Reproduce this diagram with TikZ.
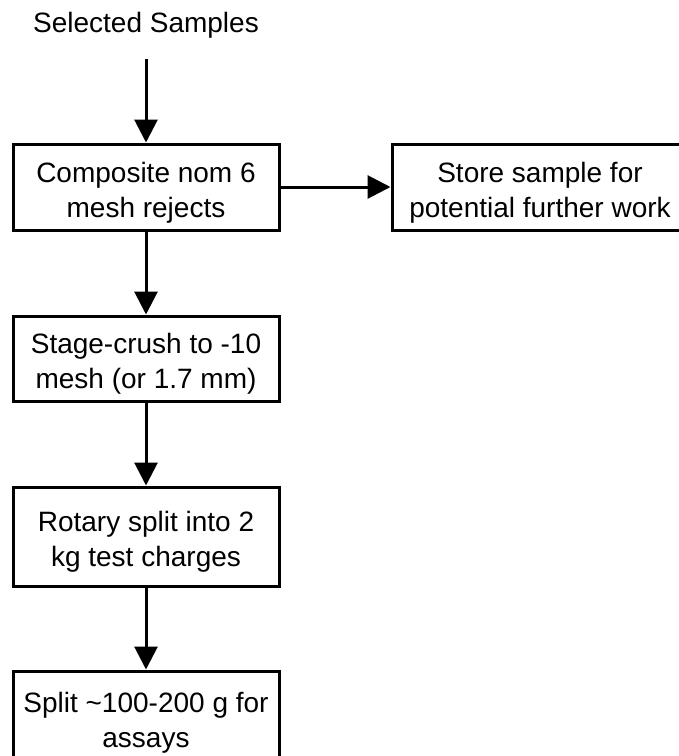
\documentclass[tikz,border=0pt]{standalone}
\usepackage{fontspec}
\setmainfont{Liberation Sans}
\usetikzlibrary{arrows.meta}

\newcommand{\lowtext}{\rule{0pt}{31pt}}

\tikzset{
  stage/.style={draw, line width=3pt, align=center, inner sep=0pt,
    minimum width=266pt, font=\fontsize{28}{35}\selectfont},
  flow/.style={line width=3pt, -{Triangle[length=23pt,width=23pt]}}
}

\begin{document}
\begin{tikzpicture}[x=1pt,y=-1pt]
        % Frame
        \useasboundingbox (0,0) rectangle (679,756);
        \clip (0,0) rectangle (679,756);
        % Steps
        \node [font=\fontsize{28}{35}\selectfont] (samples) at (146,25) {Selected Samples};
        \coordinate (feed) at (146,59);
        \node [stage, minimum height=86pt] (composite) at (146,187) {\lowtext Composite nom 6\\mesh rejects};
        \node [stage, minimum width=296pt, minimum height=86pt] (store) at (540,187) {\lowtext Store sample for\\potential further work};
        \node [stage, minimum height=85pt] (crush) at (146,358.5) {\lowtext Stage-crush to -10\\mesh (or 1.7 mm)};
        \node [stage, minimum height=99pt] (rotary) at (146,536.5) {\lowtext Rotary split into 2\\kg test charges};
        \node [stage, minimum height=92pt] (split) at (146,717) {\lowtext Split \textasciitilde 100-200 g for\\assays};
        % Arrows
        \draw [flow] (feed) -- (composite);
        \draw [flow] (composite) -- (store);
        \draw [flow] (composite) -- (crush);
        \draw [flow] (crush) -- (rotary);
        \draw [flow] (rotary) -- (split);
    \end{tikzpicture}
\end{document}
